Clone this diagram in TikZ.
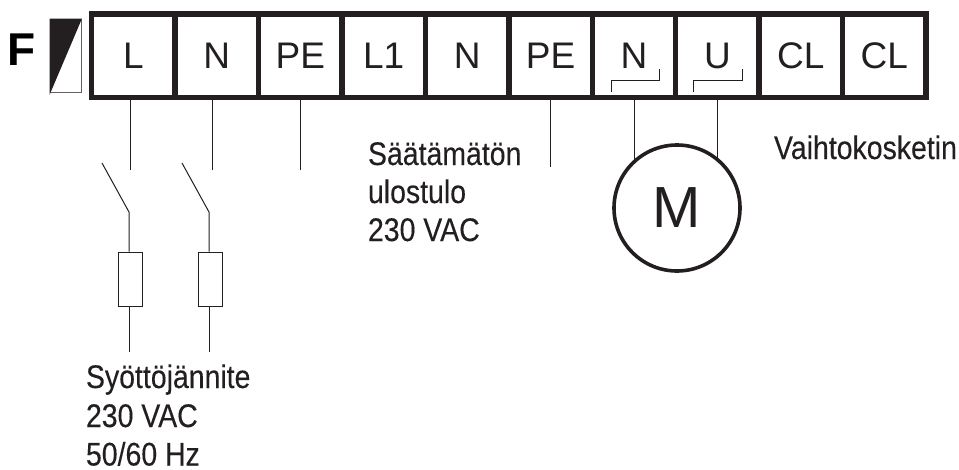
\documentclass[tikz,border=0pt]{standalone}
\usepackage{fontspec}
\setmainfont{Liberation Sans}
\newfontfamily\condfont[FakeStretch=0.87,FakeBold=0.2]{Liberation Sans}
\definecolor{ink}{HTML}{231F20}
\tikzset{
  terminal/.style={draw=ink,line width=5.5pt,minimum width=83.45pt,minimum height=83.5pt,inner sep=0pt,text=ink,font=\fontsize{37}{37}\selectfont,anchor=center},
  wire/.style={draw=ink,line width=1pt},
  fuse/.style={draw=ink,line width=1pt,fill=white,minimum width=24pt,minimum height=54pt,inner sep=0pt,anchor=center},
  motor/.style={circle,draw=ink,line width=3.6pt,minimum size=126pt,inner sep=0pt,text=ink,font=\fontsize{58}{58}\selectfont,anchor=center},
  caption/.style={inner sep=0pt,outer sep=0pt,text=ink,align=left,anchor=base west,font=\condfont\fontsize{32.7}{39}\selectfont},
}
\begin{document}
\begin{tikzpicture}[x=1pt,y=-1pt]
\useasboundingbox (0,0) rectangle (959,469);
\node[inner sep=0pt,anchor=base west,font=\bfseries\fontsize{46}{46}\selectfont,text=black] (F) at (7.5,65) {F};
\node[draw=ink!70,line width=1pt,minimum width=31.5pt,minimum height=73.5pt,inner sep=0pt,anchor=north west] (flag) at (49.5,18.5) {};
\fill[ink] (flag.north west) -- (flag.north east) -- ([yshift=-2pt]flag.south west) -- cycle;
% terminals
\foreach \nm/\txt [count=\i from 0] in {tL/L,tN/N,tPE/PE,tLa/L1,tNb/N,tPEb/PE,tNm/N,tU/U,tCa/CL,tCb/CL}{
  \node[terminal] (\nm) at ({133.4+83.43*\i},55.5) {\txt};
}
% wires from terminals
\coordinate (wL) at (130.5,170);
\coordinate (wN) at (212.5,170);
\coordinate (wPE) at (300.5,170);
\coordinate (wPEb) at (550,167);
\draw[wire] (wL |- tL.south) -- (wL);
\draw[wire] (wN |- tN.south) -- (wN);
\draw[wire] (wPE |- tPE.south) -- (wPE);
\draw[wire] (wPEb |- tPEb.south) -- (wPEb);
% motor
\node[motor] (M) at (677,208) {M};
\coordinate (mA) at (634,161);
\coordinate (mB) at (717.5,160);
\draw[wire] (mA |- tNm.south) -- (mA);
\draw[wire] (mB |- tU.south) -- (mB);
% brackets
\coordinate (bA) at (611,92);
\coordinate (bB) at (659,69);
\coordinate (bC) at (693,92);
\coordinate (bD) at (742,69);
\draw[wire,line width=.8pt] (bA) -- (611,80) -- (659,80) -- (bB);
\draw[wire,line width=.8pt] (bC) -- (693,80) -- (742,80) -- (bD);
% switches and fuses
\node[fuse] (f1) at (130,279) {};
\node[fuse] (f2) at (210,279) {};
\coordinate (s1a) at (102,163);
\coordinate (s1b) at (129,212);
\coordinate (e1) at (129,352);
\coordinate (s2a) at (182,163);
\coordinate (s2b) at (209,212);
\coordinate (e2) at (209,352);
\draw[wire] (s1a) -- (s1b) -- (s1b |- f1.north);
\draw[wire] (e1 |- f1.south) -- (e1);
\draw[wire] (s2a) -- (s2b) -- (s2b |- f2.north);
\draw[wire] (e2 |- f2.south) -- (e2);
% captions
\node[caption] (c1) at (86,388) {Syöttöjännite};
\node[caption] (c2) at (86,427) {230 VAC};
\node[caption] (c3) at (86,465.5) {50/60 Hz};
\node[caption] (c4) at (368,165) {Säätämätön};
\node[caption] (c5) at (368,203) {ulostulo};
\node[caption] (c6) at (368,241) {230 VAC};
\node[caption] (c7) at (774,159) {Vaihtokosketin};
\end{tikzpicture}
\end{document}
